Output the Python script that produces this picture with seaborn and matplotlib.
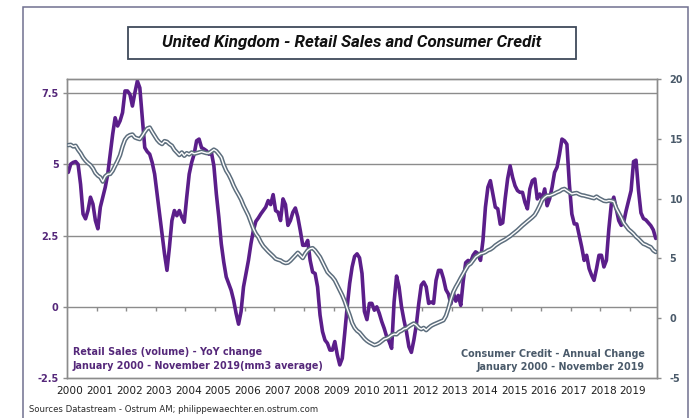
import numpy as np
import pandas as pd
import matplotlib
matplotlib.use("Agg")
import matplotlib.pyplot as plt
from matplotlib.patches import Rectangle
import seaborn as sns

# ---- data: monthly, January 2000 - November 2019 ----
years = [str(y) for y in range(2000, 2020)]

# Retail sales volume, YoY % change (3-month average), left axis
retail_sales = [
    4.72, 5.01, 5.07, 5.10, 5.00, 4.30, 3.26, 3.09, 3.38, 3.85, 3.61, 3.03,   # 2000
    2.74, 3.50, 3.85, 4.20, 4.66, 5.36, 6.06, 6.64, 6.35, 6.53, 6.82, 7.58,   # 2001
    7.58, 7.46, 7.05, 7.52, 7.93, 7.69, 6.64, 5.59, 5.45, 5.36, 5.07, 4.66,   # 2002
    3.96, 3.26, 2.56, 1.86, 1.28, 2.10, 3.03, 3.38, 3.20, 3.38, 3.15, 2.97,   # 2003
    3.85, 4.66, 5.07, 5.36, 5.83, 5.89, 5.59, 5.54, 5.48, 5.36, 5.42, 4.95,   # 2004
    3.96, 3.15, 2.21, 1.57, 1.05, 0.82, 0.58, 0.23, -0.23, -0.61, -0.17, 0.70,  # 2005
    1.17, 1.63, 2.21, 2.68, 3.00, 3.12, 3.26, 3.38, 3.50, 3.73, 3.59, 3.94,   # 2006
    3.38, 3.32, 3.03, 3.79, 3.59, 2.86, 3.03, 3.32, 3.47, 3.15, 2.68, 2.16,   # 2007
    2.16, 2.33, 1.63, 1.22, 1.17, 0.70, -0.29, -0.87, -1.17, -1.28, -1.52, -1.52,  # 2008
    -1.22, -1.69, -2.04, -1.81, -0.93, 0.00, 0.82, 1.40, 1.77, 1.86, 1.72, 1.17,  # 2009
    -0.17, -0.45, 0.12, 0.12, -0.12, 0.00, -0.23, -0.52, -0.76, -1.05, -1.22, -1.46,  # 2010
    0.17, 1.08, 0.70, 0.00, -0.47, -0.87, -1.40, -1.60, -1.17, -0.64, 0.12, 0.76,  # 2011
    0.87, 0.70, 0.12, 0.17, 0.12, 0.93, 1.28, 1.28, 0.99, 0.60, 0.45, 0.10,   # 2012
    0.50, 0.20, 0.40, 0.05, 0.90, 1.55, 1.63, 1.57, 1.81, 1.93, 1.87, 1.63,   # 2013
    2.33, 3.50, 4.20, 4.43, 3.96, 3.50, 3.44, 2.90, 2.95, 3.80, 4.50, 4.95,   # 2014
    4.55, 4.25, 4.08, 4.02, 4.02, 3.67, 3.44, 4.14, 4.43, 4.49, 3.79, 3.96,   # 2015
    3.79, 4.14, 3.55, 3.79, 4.20, 4.72, 4.90, 5.36, 5.89, 5.83, 5.71, 4.31,   # 2016
    3.26, 2.91, 2.91, 2.51, 2.10, 1.63, 1.81, 1.34, 1.11, 0.93, 1.34, 1.81,   # 2017
    1.81, 1.40, 1.63, 2.74, 3.61, 3.85, 3.44, 3.03, 2.86, 2.97, 3.38, 3.73,   # 2018
    4.08, 5.10, 5.15, 4.10, 3.30, 3.10, 3.05, 2.95, 2.85, 2.70, 2.40,         # 2019
]

# Consumer credit, annual % change, right axis
consumer_credit = [
    14.47, 14.50, 14.36, 14.42, 14.08, 13.80, 13.44, 13.17, 12.97, 12.80, 12.53, 12.14,  # 2000
    11.92, 11.78, 11.42, 11.86, 12.03, 12.06, 12.33, 12.75, 13.17, 13.64, 14.36, 14.92,  # 2001
    15.19, 15.31, 15.36, 15.11, 15.03, 14.97, 15.25, 15.58, 15.86, 15.94, 15.58, 15.25,  # 2002
    14.92, 14.69, 14.56, 14.81, 14.75, 14.56, 14.42, 14.08, 13.86, 13.64, 13.86, 13.58,  # 2003
    13.80, 13.69, 13.86, 13.75, 13.80, 13.86, 13.92, 13.86, 13.80, 13.80, 13.95, 14.10,  # 2004
    13.97, 13.72, 13.44, 12.81, 12.33, 12.00, 11.58, 11.08, 10.67, 10.31, 9.92, 9.42,    # 2005
    9.00, 8.58, 8.03, 7.47, 7.06, 6.78, 6.36, 6.03, 5.81, 5.58, 5.39, 5.19,              # 2006
    4.97, 4.89, 4.83, 4.69, 4.61, 4.64, 4.81, 5.03, 5.25, 5.47, 5.25, 5.03,              # 2007
    5.39, 5.67, 5.81, 5.86, 5.67, 5.39, 5.11, 4.69, 4.28, 3.86, 3.64, 3.44,              # 2008
    3.17, 2.75, 2.33, 1.92, 1.42, 0.81, 0.25, -0.40, -0.80, -1.05, -1.20, -1.45,         # 2009
    -1.70, -1.89, -2.03, -2.14, -2.25, -2.19, -2.08, -1.92, -1.75, -1.69, -1.58, -1.42,  # 2010
    -1.33, -1.35, -1.15, -1.05, -0.90, -0.85, -0.68, -0.55, -0.44, -0.58, -0.81, -0.92,  # 2011
    -0.81, -1.00, -0.81, -0.64, -0.53, -0.44, -0.36, -0.25, -0.17, 0.19, 0.81, 1.58,     # 2012
    2.19, 2.61, 2.97, 3.36, 3.72, 4.08, 4.42, 4.56, 4.83, 5.11, 5.25, 5.39,              # 2013
    5.44, 5.53, 5.67, 5.75, 5.89, 6.08, 6.22, 6.36, 6.47, 6.58, 6.72, 6.86,              # 2014
    7.03, 7.19, 7.36, 7.56, 7.75, 7.92, 8.08, 8.25, 8.44, 8.64, 9.00, 9.42,              # 2015
    9.89, 10.11, 10.25, 10.25, 10.33, 10.42, 10.53, 10.61, 10.75, 10.81, 10.67, 10.53,   # 2016
    10.39, 10.44, 10.47, 10.36, 10.28, 10.25, 10.19, 10.14, 10.08, 10.03, 10.17, 10.03,  # 2017
    9.92, 9.81, 9.78, 9.83, 9.81, 9.75, 9.19, 8.81, 8.42, 7.97, 7.69, 7.42,              # 2018
    7.25, 7.06, 6.81, 6.64, 6.42, 6.22, 6.14, 6.03, 5.94, 5.67, 5.53,                    # 2019
]

left_ticks = [-2.5, 0, 2.5, 5, 7.5]
left_tick_labels = ["-2.5", "0", "2.5", "5", "7.5"]
right_ticks = [-5, 0, 5, 10, 15, 20]

df = pd.DataFrame({
    "month": np.arange(len(retail_sales)),
    "retail": retail_sales,
    "credit": consumer_credit,
})

# ---- styling ----
sns.set_style("white")
plt.rcParams["font.family"] = ["DejaVu Sans"]

PURPLE = "#5b1e8a"
PURPLE_TXT = "#55287a"
SLATE = "#5d6e7d"
SLATE_TXT = "#4a5a6a"
GRID = "#8c8c8c"

W, H = 693, 418
fig = plt.figure(figsize=(W / 100, H / 100), dpi=100)
fig.patch.set_facecolor("white")


def fx(px):
    return px / W


def fy(py):
    return 1 - py / H


ax = fig.add_axes([fx(67), fy(378), (657 - 67) / W, (378 - 79) / H])
ax2 = ax.twinx()

# retail sales (left axis)
sns.lineplot(data=df, x="month", y="retail", ax=ax, color=PURPLE,
             linewidth=2.6, zorder=3)

# consumer credit (right axis): outlined double line
sns.lineplot(data=df, x="month", y="credit", ax=ax2, color=SLATE,
             linewidth=3.2, zorder=4)
sns.lineplot(data=df, x="month", y="credit", ax=ax2, color="white",
             linewidth=1.0, zorder=5)

n = len(retail_sales)
ax.set_xlim(-0.5, n - 0.5)
ax.set_ylim(-2.5, 8.0)
ax2.set_ylim(-5, 20)

# horizontal grid on the left scale
for v in [0, 2.5, 5, 7.5]:
    ax.axhline(v, color=GRID, lw=1.0, zorder=1)

# year boundary tick marks on the zero line
bounds = [12 * k - 0.5 for k in range(1, len(years))]
ax.vlines(bounds, -0.14, 0.0, color=GRID, lw=1.0, zorder=1)

# year labels
ax.set_xticks([12 * k + 0.7 for k in range(len(years))])
ax.set_xticklabels(years, fontsize=7.6, color="#1e1e1e")
ax.tick_params(axis="x", length=0, pad=6)

ax.set_yticks(left_ticks)
ax.set_yticklabels(left_tick_labels, fontsize=7, fontweight="bold",
                   color=PURPLE_TXT)
ax.tick_params(axis="y", length=3, width=1, color=GRID, pad=3)

ax2.set_yticks(right_ticks)
ax2.set_yticklabels([str(t) for t in right_ticks], fontsize=7,
                    fontweight="bold", color=SLATE_TXT)
ax2.tick_params(axis="y", length=3, width=1, color=GRID, pad=6)

ax.set_xlabel("")
ax.set_ylabel("")
ax2.set_ylabel("")
ax2.grid(False)
for a in (ax, ax2):
    for s in a.spines.values():
        s.set_color(GRID)
        s.set_linewidth(1.0)
        s.set_visible(True)

# ---- in-plot captions ----
fig.text(fx(73), fy(352), "Retail Sales (volume) - YoY change",
         fontsize=6.9, fontweight="bold", color=PURPLE_TXT, va="center", ha="left")
fig.text(fx(73), fy(366), "January 2000 - November 2019(mm3 average)",
         fontsize=6.9, fontweight="bold", color=PURPLE_TXT, va="center", ha="left")
fig.text(fx(645), fy(354), "Consumer Credit - Annual Change",
         fontsize=6.9, fontweight="bold", color=SLATE_TXT, va="center", ha="right")
fig.text(fx(645), fy(367), "January 2000 - November 2019",
         fontsize=6.9, fontweight="bold", color=SLATE_TXT, va="center", ha="right")

# source line
fig.text(fx(29), fy(409), "Sources Datastream - Ostrum AM; philippewaechter.en.ostrum.com",
         fontsize=6.1, color="#2a2a2a", va="center", ha="left")

# outer frame
fig.patches.append(Rectangle((fx(23), -0.05), (688 - 23) / W, fy(7) + 0.05,
                             transform=fig.transFigure, fill=False,
                             edgecolor="#707090", linewidth=1.1))

# title box
fig.patches.append(Rectangle((fx(128), fy(59)), (576 - 128) / W, (59 - 27) / H,
                             transform=fig.transFigure, facecolor="white",
                             edgecolor="#3f4a5a", linewidth=1.3))
fig.text(fx(352), fy(43), "United Kingdom - Retail Sales and Consumer Credit",
         fontsize=12.2, fontweight="bold", fontstyle="italic",
         family=["Roboto", "DejaVu Sans"],
         color="#111111", ha="center", va="center")

fig.savefig("out.png", dpi=100)
